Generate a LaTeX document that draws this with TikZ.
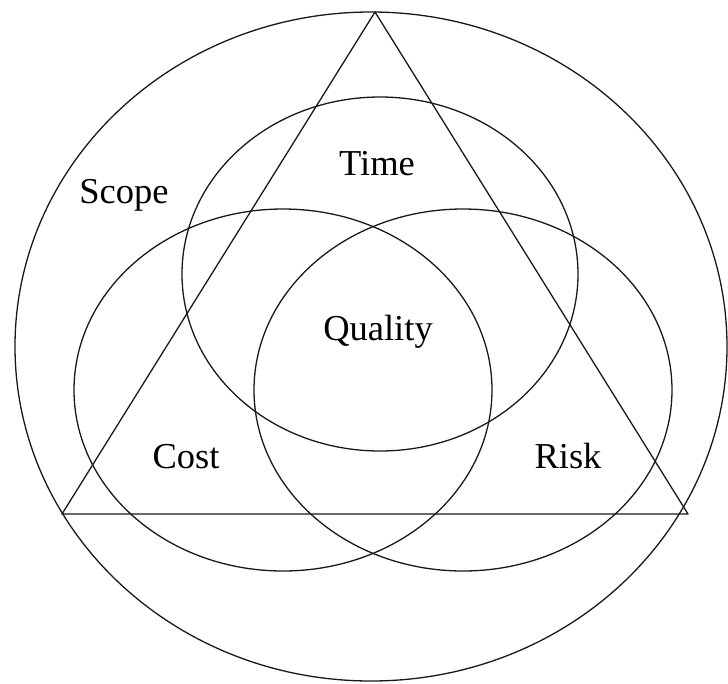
\documentclass[tikz,border=0pt]{standalone}
\usepackage{fontspec}
\setmainfont{Liberation Serif}
\usepackage{tikz}
\usetikzlibrary{positioning}

\begin{document}
\begin{tikzpicture}[x=1pt, y=-1pt, line width=1.3pt,
    ring/.style={draw=black!90},
    lbl/.style={anchor=base, inner sep=0pt, font=\fontsize{36.5}{40}\selectfont}]
  \useasboundingbox (0,0) rectangle (728,683);
  % Outer scope ellipse
  \draw[ring] (371,346.5) ellipse [x radius=356, y radius=334.5];
  % Triangle
  \coordinate (apex) at (375,12);
  \coordinate (bl) at (62,514);
  \coordinate (br) at (688,514);
  \draw[ring, line join=round] (apex) -- (bl) -- (br) -- cycle;
  % Three overlapping ellipses
  \draw[ring] (380,274) ellipse [x radius=198, y radius=177];
  \draw[ring] (283,390) ellipse [x radius=209, y radius=181];
  \draw[ring] (463,390) ellipse [x radius=209, y radius=181];
  % Labels
  \node[lbl] (scope) at (124,203) {Scope};
  \node[lbl] (time) at (377,175) {Time};
  \node[lbl] (quality) at (378,340) {Quality};
  \node[lbl] (cost) at (186,468) {Cost};
  \node[lbl] (risk) at (568,468) {Risk};
\end{tikzpicture}
\end{document}
